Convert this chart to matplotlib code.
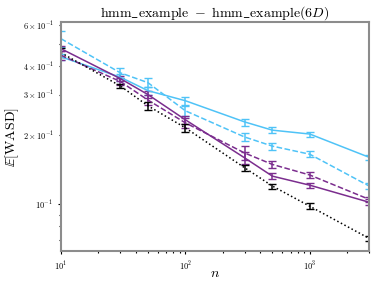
import matplotlib
matplotlib.use("Agg")
import matplotlib.pyplot as plt
import numpy as np

plt.rcParams['mathtext.fontset'] = 'cm'
plt.rcParams['font.family'] = 'serif'
plt.rcParams['font.serif'] = ['cmr10', 'DejaVu Serif']
plt.rcParams['axes.formatter.use_mathtext'] = True

# sample sizes
n = [10, 30, 50, 100, 300, 500, 1000, 3000]

# E[WASD] per method
blue_solid = [0.438, 0.357, 0.312, 0.282, 0.228, 0.210, 0.202, 0.160]
blue_solid_err = [0.012, 0.012, 0.012, 0.012, 0.008, 0.006, 0.005, 0.004]
blue_dash = [0.525, 0.373, 0.338, 0.255, 0.196, 0.179, 0.165, 0.120]
blue_dash_err = [0.04, 0.018, 0.016, 0.012, 0.008, 0.006, 0.005, 0.004]
purple_solid = [0.475, 0.352, 0.300, 0.233, 0.159, 0.1325, 0.121, 0.102]
purple_solid_err = [0.012, 0.010, 0.010, 0.010, 0.009, 0.004, 0.003, 0.003]
purple_dash = [0.445, 0.342, 0.284, 0.226, 0.167, 0.149, 0.134, 0.105]
purple_dash_err = [0.020, 0.012, 0.014, 0.012, 0.012, 0.005, 0.004, 0.003]
black_dot = [0.456, 0.327, 0.268, 0.215, 0.144, 0.120, 0.098, 0.071]
black_dot_err = [0.02, 0.006, 0.010, 0.008, 0.004, 0.003, 0.003, 0.002]

blue = '#4FC3F7'
purple = '#7B2D8E'

fig = plt.figure(figsize=(3.74, 2.87), dpi=100)
ax = fig.add_axes([0.163, 0.125, 0.824, 0.798])

ax.errorbar(n, blue_solid, yerr=blue_solid_err, color=blue, ls='-', lw=1.1, capsize=3, elinewidth=1.1)
ax.errorbar(n, blue_dash, yerr=blue_dash_err, color=blue, ls='--', lw=1.1, capsize=3, elinewidth=1.1)
ax.errorbar(n, purple_solid, yerr=purple_solid_err, color=purple, ls='-', lw=1.1, capsize=3, elinewidth=1.1)
ax.errorbar(n, purple_dash, yerr=purple_dash_err, color=purple, ls='--', lw=1.1, capsize=3, elinewidth=1.1)
ax.errorbar(n, black_dot, yerr=black_dot_err, color='black', ls=':', lw=1.1, capsize=3, elinewidth=1.1)

ax.set_xscale('log')
ax.set_yscale('log')
ax.set_xlim(10, 3000)
ax.set_ylim(0.0625, 0.62)

for s in ax.spines.values():
    s.set_color('#8c8c8c')
    s.set_linewidth(1.5)
ax.tick_params(which='both', labelsize=6, length=2.5, width=0.8, color='black')
ax.tick_params(which='minor', length=1.5)

ax.set_title(r'$\mathrm{hmm\_example}\ -\ \mathrm{hmm\_example}(6D)$', fontsize=10, pad=4)
ax.set_ylabel(r'$\mathbb{E}[\mathrm{WASD}]$', fontsize=10, labelpad=1)
ax.set_xlabel(r'$n$', fontsize=10, labelpad=-3)

plt.savefig('out.png', dpi=100)
